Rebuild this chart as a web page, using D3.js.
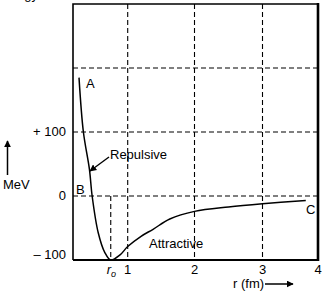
<!DOCTYPE html>
<html>
<head>
<meta charset="utf-8">
<script src="https://cdn.jsdelivr.net/npm/d3@7"></script>
<style>
  html, body { margin: 0; padding: 0; background: #fff; }
  svg { display: block; font-family: "Liberation Sans", Arial, sans-serif; }
</style>
</head>
<body>
<svg id="chart" width="328" height="292"></svg>
<script>
// potential energy curve (r in fm, V in MeV)
const curveR = [0.11, 0.19, 0.30, 0.35, 0.46, 0.58, 0.69, 0.86, 1.0, 1.2, 1.38, 1.63, 2.0, 2.5, 3.0, 3.78]
const curveV = [185, 100, 42, 0, -57, -88, -100, -92, -79, -63, -52, -36, -24, -17, -12, -7]
const rZero = 0.69

const xTicks = [1, 2, 3, 4]
const yTicks = [100, 0, -100]
const yTickLabels = ['+ 100', '0', '\u2013 100']
const xGrid = [1, 2, 3]
const yGrid = [0, 100, 200]

const svg = d3.select('#chart')

// the hand-drawn grid isn't evenly spaced, so map each whole fm separately
const x = d3.scaleLinear().domain([0, 1, 2, 3, 4]).range([73, 127.7, 194.5, 262.5, 318])
const y = d3.scaleLinear().domain([-100, 300]).range([260, 4])

svg.append('defs').append('marker')
    .attr('id', 'head')
    .attr('viewBox', '0 0 10 10')
    .attr('refX', 9).attr('refY', 5)
    .attr('markerWidth', 7).attr('markerHeight', 7)
    .attr('markerUnits', 'userSpaceOnUse')
    .attr('orient', 'auto')
  .append('path')
    .attr('d', 'M0,0 L10,5 L0,10 Z')
    .attr('fill', '#000')

// dashed grid
svg.append('g').selectAll('line')
  .data(xGrid)
  .join('line')
    .attr('x1', d => x(d)).attr('x2', d => x(d))
    .attr('y1', y(300)).attr('y2', y(-100))
    .attr('stroke', '#000').attr('stroke-width', 1.1)
    .attr('stroke-dasharray', '5,3')

svg.append('g').selectAll('line')
  .data(yGrid)
  .join('line')
    .attr('x1', x(0)).attr('x2', x(4))
    .attr('y1', d => y(d)).attr('y2', d => y(d))
    .attr('stroke', '#000').attr('stroke-width', 1.1)
    .attr('stroke-dasharray', '5,3')

// r0 drop line
svg.append('line')
    .attr('x1', x(rZero)).attr('x2', x(rZero))
    .attr('y1', y(0)).attr('y2', y(-100))
    .attr('stroke', '#000').attr('stroke-width', 1.1)
    .attr('stroke-dasharray', '5,3')

// frame
svg.append('path')
    .attr('d', `M${x(0)},${y(-100)} L${x(0)},${y(300)} L${x(4)},${y(300)}`)
    .attr('fill', 'none').attr('stroke', '#000').attr('stroke-width', 1.6)
svg.append('line')
    .attr('x1', x(0)).attr('x2', x(4))
    .attr('y1', y(-100)).attr('y2', y(-100))
    .attr('stroke', '#000').attr('stroke-width', 1.8)
svg.append('line')
    .attr('x1', x(4)).attr('x2', x(4))
    .attr('y1', y(300) - 1).attr('y2', y(-100) + 1)
    .attr('stroke', '#000').attr('stroke-width', 2.6)

// the curve
const line = d3.line()
    .x(d => x(d[0]))
    .y(d => y(d[1]))
    .curve(d3.curveCatmullRom.alpha(0.5))

svg.append('path')
    .datum(d3.zip(curveR, curveV))
    .attr('d', line)
    .attr('fill', 'none').attr('stroke', '#000').attr('stroke-width', 1.5)

// y tick labels
svg.append('g').selectAll('text')
  .data(yTicks)
  .join('text')
    .attr('x', 66)
    .attr('y', d => y(d) + (d === -100 ? -1 : 4))
    .attr('text-anchor', 'end')
    .attr('font-size', 13)
    .text((d, i) => yTickLabels[i])

// x tick labels
svg.append('g').selectAll('text')
  .data(xTicks)
  .join('text')
    .attr('x', d => x(d))
    .attr('y', 274)
    .attr('text-anchor', 'middle')
    .attr('font-size', 13)
    .text(d => d)

let r0Label = svg.append('text')
    .attr('x', x(rZero) - 4).attr('y', 274)
    .attr('font-size', 13)
r0Label.append('tspan').attr('font-style', 'italic').text('r')
r0Label.append('tspan').attr('font-size', 9).attr('dy', 3).attr('font-style', 'italic').text('o')

// axis titles
svg.append('text')
    .attr('x', 233).attr('y', 288)
    .attr('font-size', 13)
    .text('r (fm)')
svg.append('line')
    .attr('x1', 265).attr('x2', 293)
    .attr('y1', 284).attr('y2', 284)
    .attr('stroke', '#000').attr('stroke-width', 1.5)
    .attr('marker-end', 'url(#head)')

svg.append('text')
    .attr('x', 3).attr('y', 189)
    .attr('font-size', 13)
    .text('MeV')
svg.append('line')
    .attr('x1', 7.5).attr('x2', 7.5)
    .attr('y1', 175).attr('y2', 141)
    .attr('stroke', '#000').attr('stroke-width', 1.5)
    .attr('marker-end', 'url(#head)')

// clipped caption above the figure
svg.append('text')
    .attr('x', 38).attr('y', -1)
    .attr('text-anchor', 'end')
    .attr('font-size', 13)
    .text('Energy')

// annotations
const notes = [
  { t: 'A', x: 86, y: 88 },
  { t: 'B', x: 76, y: 194 },
  { t: 'C', x: 306, y: 214 },
  { t: 'Repulsive', x: 110, y: 159 },
  { t: 'Attractive', x: 149, y: 248 }
]
svg.append('g').selectAll('text')
  .data(notes)
  .join('text')
    .attr('x', d => d.x).attr('y', d => d.y)
    .attr('font-size', 13)
    .text(d => d.t)

svg.append('line')
    .attr('x1', 109).attr('y1', 157)
    .attr('x2', 90).attr('y2', 171)
    .attr('stroke', '#000').attr('stroke-width', 1.4)
    .attr('marker-end', 'url(#head)')
</script>
</body>
</html>
